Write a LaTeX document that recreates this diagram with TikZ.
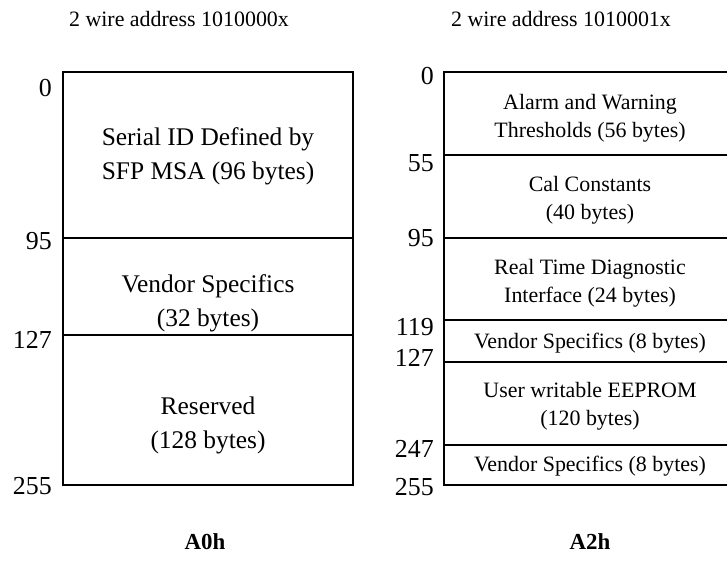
\documentclass[tikz,border=0pt]{standalone}
\usepackage{fontspec}
\setmainfont{Liberation Serif}
\begin{document}
\begin{tikzpicture}[x=1bp,y=-1bp,
  box/.style={draw=black, line width=2bp},
  sep/.style={draw=black, line width=2bp},
  bigtext/.style={font=\fontsize{25.5}{34}\selectfont, align=center, inner sep=0},
  smalltext/.style={font=\fontsize{22}{28}\selectfont, align=center, inner sep=0},
  caption/.style={font=\fontsize{22}{24}\selectfont, inner sep=0},
  numlabel/.style={font=\fontsize{26}{28}\selectfont, anchor=east, inner sep=0},
  title/.style={font=\bfseries\fontsize{23}{24}\selectfont, inner sep=0}]
\useasboundingbox (0,0) rectangle (727,565);
\clip (0,0) rectangle (727,565);
% captions
\node[caption] (capL) at (179,19) {2 wire address 1010000x};
\node[caption] (capR) at (561,19) {2 wire address 1010001x};
% left box
\coordinate (LTL) at (63,72);
\coordinate (LBR) at (353,485);
\draw[box] (LTL) rectangle (LBR);
\coordinate (L95a) at (63,238); \coordinate (L95b) at (353,238);
\coordinate (L127a) at (63,335); \coordinate (L127b) at (353,335);
\draw[sep] (L95a) -- (L95b);
\draw[sep] (L127a) -- (L127b);
\node[bigtext] (serial) at (208,156) {Serial ID Defined by\\SFP MSA (96 bytes)};
\node[bigtext] (vendL) at (208,303) {Vendor Specifics\\(32 bytes)};
\node[bigtext] (resv) at (208,425) {Reserved\\(128 bytes)};
\node[numlabel] (l0) at (52,88) {0};
\node[numlabel] (l95) at (52,241) {95};
\node[numlabel] (l127) at (52,340) {127};
\node[numlabel] (l255) at (52,486) {255};
% right box
\coordinate (RTL) at (444,72);
\coordinate (RBR) at (736,485);
\draw[box] (RTL) rectangle (RBR);
\foreach \yy/\nm in {155/r55,238/r95,320/r119,362/r127,445/r247}{
  \coordinate (\nm a) at (444,\yy); \coordinate (\nm b) at (736,\yy);
  \draw[sep] (\nm a) -- (\nm b);
}
\node[smalltext] (alarm) at (590,118) {Alarm and Warning\\Thresholds (56 bytes)};
\node[smalltext] (cal) at (590,200) {Cal Constants\\(40 bytes)};
\node[smalltext] (rtd) at (590,283) {Real Time Diagnostic\\Interface (24 bytes)};
\node[smalltext] (vend1) at (590,343) {Vendor Specifics (8 bytes)};
\node[smalltext] (user) at (590,406) {User writable EEPROM\\(120 bytes)};
\node[smalltext] (vend2) at (590,466) {Vendor Specifics (8 bytes)};
\node[numlabel] (n0) at (434,76) {0};
\node[numlabel] (n55) at (434,163) {55};
\node[numlabel] (n95) at (434,238) {95};
\node[numlabel] (n119) at (434,327) {119};
\node[numlabel] (n127) at (434,358) {127};
\node[numlabel] (n247) at (434,449) {247};
\node[numlabel] (n255) at (434,487) {255};
% titles
\node[title] (A0h) at (205,542) {A0h};
\node[title] (A2h) at (590,542) {A2h};
\end{tikzpicture}
\end{document}
